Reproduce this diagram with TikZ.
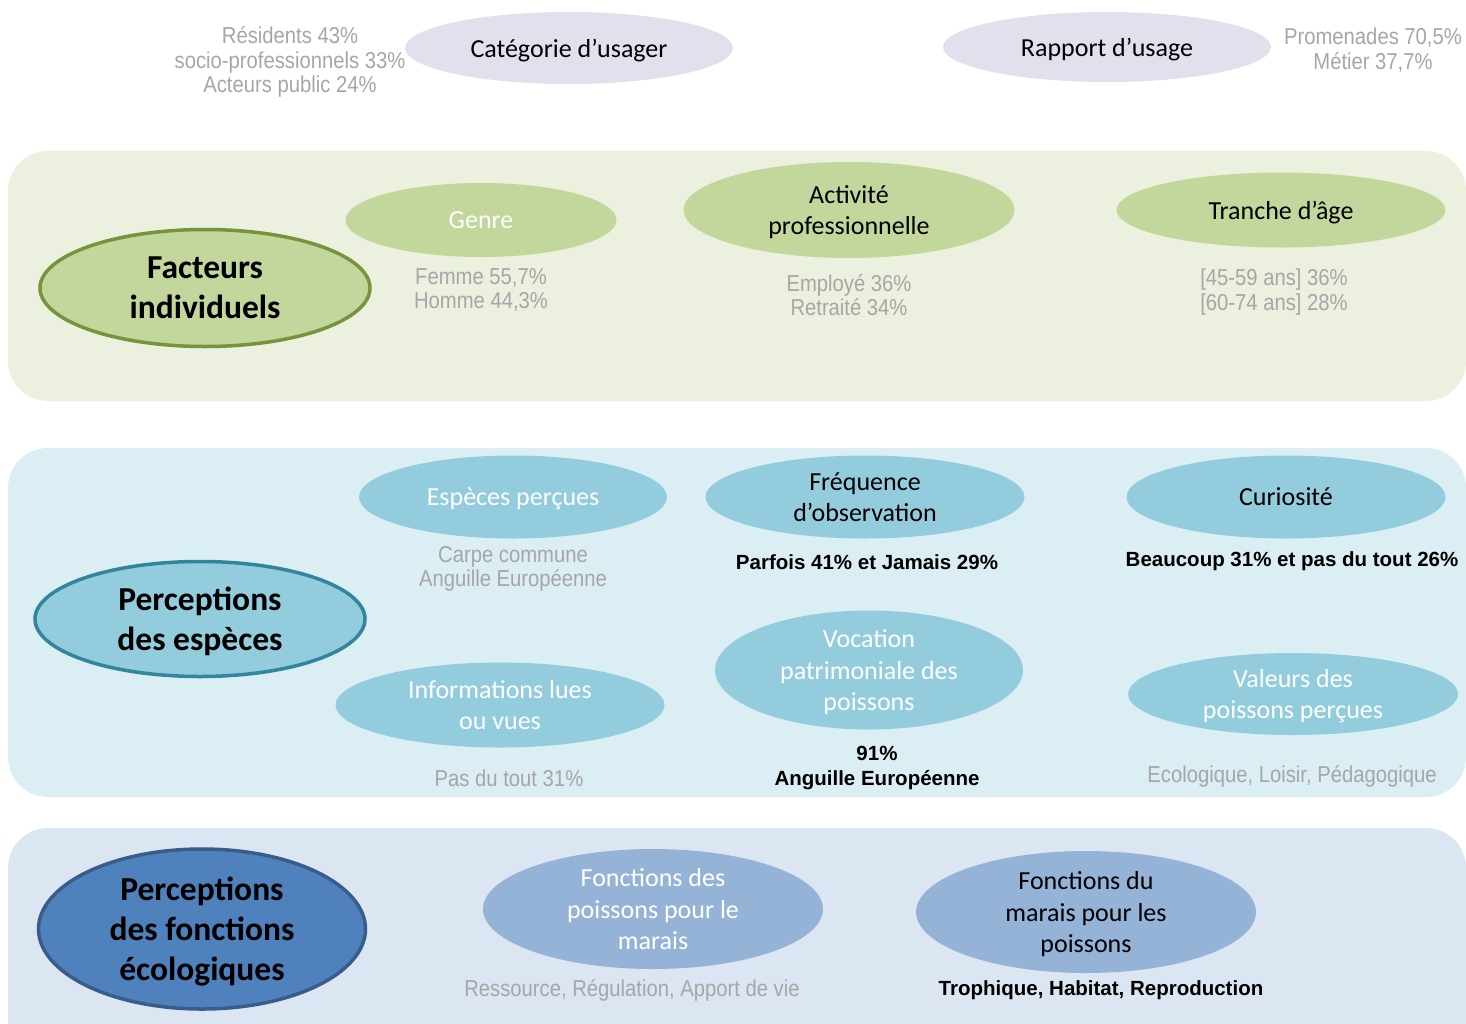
\documentclass[tikz,border=0pt]{standalone}
\usepackage{fontspec}
\setmainfont{Carlito}
\newfontfamily\narrowfont[FakeStretch=0.88]{Liberation Sans}
\newfontfamily\datafont{Liberation Sans}
\usetikzlibrary{shapes.geometric}

\definecolor{lavfill}{HTML}{E4DFEC}
\definecolor{greenpanel}{HTML}{EBF1DE}
\definecolor{greenfill}{HTML}{C3D69B}
\definecolor{greenline}{HTML}{77933C}
\definecolor{bluepanel}{HTML}{DAEEF3}
\definecolor{bluefill}{HTML}{93CDDD}
\definecolor{blueline}{HTML}{31859C}
\definecolor{navypanel}{HTML}{DCE6F2}
\definecolor{navyfill}{HTML}{95B3D7}
\definecolor{navymain}{HTML}{4F81BD}
\definecolor{navyline}{HTML}{385D8A}
\definecolor{datagray}{HTML}{A6A6A6}

\tikzset{
  panel/.style={rounded corners=40pt},
  oval/.style={ellipse, inner sep=0pt, align=center, text depth=0pt, font=\fontsize{26}{31.5}\selectfont},
  mainoval/.style={ellipse, inner sep=0pt, align=center, text depth=0pt, line width=3.5pt, font=\bfseries\fontsize{33.5}{40}\selectfont},
  graytext/.style={align=center, text=datagray, font=\narrowfont\fontsize{23}{24.5}\selectfont},
  boldtext/.style={align=center, text=black, font=\datafont\bfseries\fontsize{20.5}{24.5}\selectfont}
}

\begin{document}
\begin{tikzpicture}[x=1pt, y=-1pt]
        \useasboundingbox (0, 0) rectangle (1466, 1023);
        \clip (0, 0) rectangle (1466, 1023);

        \node[oval, fill=lavfill, minimum width=328, minimum height=72] (cat) at (569, 48) {Catégorie d’usager};
        \node[graytext] (catdata) at (290, 62) {Résidents 43\%\\socio-professionnels 33\%\\Acteurs public 24\%};
        \node[oval, fill=lavfill, minimum width=328, minimum height=70] (usage) at (1107, 47) {Rapport d’usage};
        \node[graytext] (usagedata) at (1373, 50) {Promenades 70,5\%\\Métier 37,7\%};

        \fill[greenpanel, panel] (8, 151) rectangle (1466, 401);
        \node[mainoval, fill=greenfill, draw=greenline, minimum width=330, minimum height=117] (indiv) at (205, 288) {Facteurs\\individuels};
        \node[oval, fill=greenfill, text=white, minimum width=271, minimum height=74] (genre) at (481, 220) {Genre};
        \node[graytext] (genredata) at (481, 290) {Femme 55,7\%\\Homme 44,3\%};
        \node[oval, fill=greenfill, minimum width=331, minimum height=96] (activ) at (849, 210) {Activité\\professionnelle};
        \node[graytext] (activdata) at (849, 295) {Employé 36\%\\Retraité 34\%};
        \node[oval, fill=greenfill, minimum width=329, minimum height=75] (age) at (1281, 210) {Tranche d’âge};
        \node[graytext] (agedata) at (1274, 292) {[45-59 ans] 36\%\\{}[60-74 ans] 28\%};

        \fill[bluepanel, panel] (8, 448) rectangle (1466, 797);
        \node[mainoval, fill=bluefill, draw=blueline, minimum width=330, minimum height=115] (especes) at (200, 619) {Perceptions\\des espèces};
        \node[oval, fill=bluefill, text=white, minimum width=308, minimum height=83] (percues) at (513, 497) {Espèces perçues};
        \node[graytext] (percuesdata) at (513, 569) {Carpe commune\\Anguille Européenne};
        \node[oval, fill=bluefill, minimum width=319, minimum height=83] (freq) at (865, 497) {Fréquence\\d’observation};
        \node[boldtext] (freqdata) at (867, 562) {Parfois 41\% et Jamais 29\%};
        \node[oval, fill=bluefill, minimum width=319, minimum height=83] (curio) at (1286, 497) {Curiosité};
        \node[boldtext] (curiodata) at (1292, 561) {Beaucoup 31\% et pas du tout 26\%};
        \node[oval, fill=bluefill, text=white, minimum width=308, minimum height=119] (vocation) at (869, 670) {Vocation\\patrimoniale des\\poissons};
        \node[boldtext] (vocationdata) at (877, 768) {91\%\\Anguille Européenne};
        \node[oval, fill=bluefill, text=white, minimum width=329, minimum height=85] (infos) at (500, 705) {Informations lues\\ou vues};
        \node[graytext] (infosdata) at (509, 778) {Pas du tout 31\%};
        \node[oval, fill=bluefill, text=white, minimum width=330, minimum height=82] (valeurs) at (1293, 694) {Valeurs des\\poissons perçues};
        \node[graytext] (valeursdata) at (1292, 776) {Ecologique, Loisir, Pédagogique};

        \fill[navypanel, panel] (8, 828) rectangle (1466, 1070);
        \node[mainoval, fill=navymain, draw=navyline, minimum width=327, minimum height=160] (fonctions) at (202, 929) {Perceptions\\des fonctions\\écologiques};
        \node[oval, fill=navyfill, text=white, minimum width=340, minimum height=120] (poismarais) at (653, 909) {Fonctions des\\poissons pour le\\marais};
        \node[graytext] (poismaraisdata) at (632, 990) {Ressource, Régulation, Apport de vie};
        \node[oval, fill=navyfill, minimum width=340, minimum height=122] (maraispois) at (1086, 912) {Fonctions du\\marais pour les\\poissons};
        \node[boldtext] (maraispoisdata) at (1101, 990) {Trophique, Habitat, Reproduction};
\end{tikzpicture}
\end{document}
